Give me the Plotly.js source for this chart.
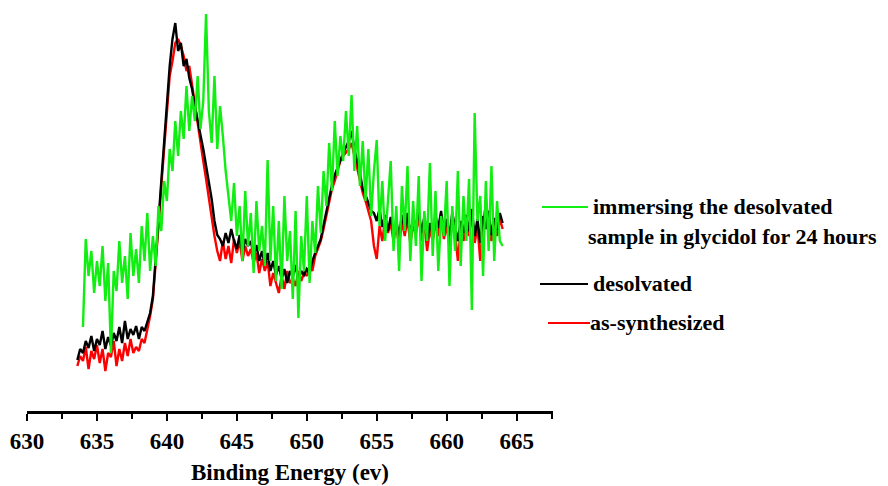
<!DOCTYPE html>
<html>
<head>
<meta charset="utf-8">
<script src="https://cdn.plot.ly/plotly-3.0.1.min.js"></script>
<style>html,body{margin:0;padding:0;background:#fff;}#chart{width:888px;height:486px;}</style>
</head>
<body>
<div id="chart"></div>
<script>
// Binding energy grid: start and step (eV)
const startBlackRed = 633.6;
const startGreen = 634.0;
const stepEV = 0.2;

// Intensities (arbitrary units), one value per 0.2 eV
const asSynthesized = [45, 55,
  50, 64, 42, 60, 52,
  66, 48, 62, 40, 58,
  54, 70, 45, 62, 50,
  68, 55, 72, 58, 64,
  60, 72, 68, 80, 95,
  112, 145, 185, 225, 265,
  300, 335, 350, 368, 372,
  365, 355, 340, 345, 325,
  305, 288, 270, 250, 232,
  212, 195, 175, 160, 150,
  170, 152, 165, 148, 172,
  158, 170, 150, 165, 155,
  162, 148, 158, 138, 152,
  140, 150, 125, 138, 128,
  118, 135, 122, 140, 128,
  132, 125, 140, 130, 138,
  135, 145, 140, 155, 162,
  170, 182, 196, 210, 222,
  230, 240, 250, 255, 258,
  262, 268, 255, 245, 232,
  218, 210, 200, 190, 165,
  152, 185, 170, 192, 178,
  188, 170, 185, 165, 190,
  175, 192, 168, 185, 178,
  195, 170, 188, 160, 182,
  170, 188, 175, 195, 172,
  185, 165, 192, 178, 150,
  182, 170, 190, 175, 196,
  168, 185, 150, 190, 205,
  195, 170, 188, 175, 192,
  182];

const desolvated = [51, 62,
  58, 70, 63, 75, 60,
  72, 66, 80, 62, 74,
  65, 78, 70, 84, 68,
  90, 72, 82, 76, 85,
  72, 84, 80, 88, 98,
  115, 150, 190, 230, 270,
  310, 345, 372, 388, 360,
  368, 345, 352, 333, 322,
  305, 292, 276, 262, 246,
  228, 212, 190, 176, 172,
  165, 178, 168, 182, 170,
  162, 176, 158, 172, 165,
  170, 155, 166, 150, 160,
  146, 158, 140, 150, 136,
  145, 132, 142, 128, 140,
  134, 146, 130, 140, 136,
  142, 138, 150, 158, 166,
  172, 186, 200, 214, 226,
  236, 244, 252, 258, 264,
  270, 280, 262, 250, 238,
  222, 216, 208, 200, 198,
  190, 202, 184, 196, 180,
  194, 178, 190, 175, 196,
  182, 198, 176, 192, 185,
  200, 178, 194, 172, 188,
  176, 195, 183, 200, 178,
  192, 175, 198, 184, 170,
  190, 178, 196, 180, 202,
  175, 192, 168, 195, 182,
  200, 176, 193, 181, 198,
  188];

const immersed = [
  84, 172, 135, 160, 118,
  150, 125, 165, 110, 148,
  58, 140, 120, 170, 128,
  155, 112, 178, 135, 162,
  128, 185, 150, 198, 140,
  175, 145, 205, 180, 230,
  210, 262, 240, 290, 255,
  300, 272, 325, 280, 315,
  290, 335, 282, 310, 397,
  300, 268, 335, 262, 305,
  275, 240, 215, 190, 228,
  175, 205, 150, 220, 165,
  198, 138, 210, 160, 185,
  145, 251, 150, 205, 130,
  190, 122, 215, 150, 180,
  112, 200, 93, 175, 140,
  215, 128, 190, 158, 225,
  178, 240, 205, 268, 220,
  290, 235, 275, 250, 300,
  255, 316, 240, 285, 225,
  270, 210, 262, 195, 240,
  271, 185, 230, 170, 215,
  250, 160, 205, 140, 225,
  180, 245, 150, 210, 165,
  235, 130, 200, 170, 248,
  155, 220, 140, 195, 175,
  230, 125, 205, 160, 240,
  145, 215, 170, 232, 101,
  298, 190, 215, 135, 230,
  160, 245, 150, 210, 170,
  165];

const seriesNames = ["as-synthesized", "desolvated", "immersing the desolvated sample in glycidol for 24 hours"];
const tickVals = [630, 635, 640, 645, 650, 655, 660, 665];
const tickText = ["630", "635", "640", "645", "650", "655", "660", "665"];

const FONT = "Liberation Serif";
const GREEN = "#11ee11";

const traces = [
  {type: "scatter", mode: "lines", name: seriesNames[0], x0: startBlackRed, dx: stepEV, y: asSynthesized,
   line: {color: "#ff0000", width: 2.4}},
  {type: "scatter", mode: "lines", name: seriesNames[1], x0: startBlackRed, dx: stepEV, y: desolvated,
   line: {color: "#000000", width: 2.4}},
  {type: "scatter", mode: "lines", name: seriesNames[2], x0: startGreen, dx: stepEV, y: immersed,
   line: {color: GREEN, width: 2.4}}
];

// pixel -> paper helpers for legend placement
const L = 27, W = 526, T = 10, H = 401;
const px = v => (v - L) / W;
const py = v => (T + H - v) / H;

const legendFont = {family: FONT, size: 22, color: "#000", weight: "bold"};

const layout = {
  width: 888, height: 486,
  margin: {l: L, r: 888 - L - W, t: T, b: 486 - T - H},
  paper_bgcolor: "#fff", plot_bgcolor: "#fff",
  font: {family: FONT},
  showlegend: false,
  xaxis: {
    range: [630, 667.6],
    showgrid: false, zeroline: false,
    showline: true, linecolor: "#000", linewidth: 3,
    ticks: "outside", ticklen: 7, tickwidth: 2, tickcolor: "#000",
    tickmode: "array", tickvals: tickVals, ticktext: tickText,
    minor: {ticks: "outside", ticklen: 5, tickwidth: 2, tickcolor: "#000", dtick: 2.5, tick0: 630, showgrid: false},
    tickfont: {family: FONT, size: 23, color: "#000", weight: "bold"},
    title: {text: "Binding Energy (ev)", font: {family: FONT, size: 23, color: "#000", weight: "bold"}, standoff: 12}
  },
  yaxis: {visible: false, range: [0, 401], fixedrange: true},
  shapes: [
    {type: "line", xref: "paper", yref: "paper", x0: px(542), x1: px(588), y0: py(207), y1: py(207), line: {color: GREEN, width: 2}},
    {type: "line", xref: "paper", yref: "paper", x0: px(540), x1: px(588), y0: py(284), y1: py(284), line: {color: "#000", width: 2}},
    {type: "line", xref: "paper", yref: "paper", x0: px(548), x1: px(590), y0: py(323), y1: py(323), line: {color: "#ff0000", width: 2}}
  ],
  annotations: [
    {xref: "paper", yref: "paper", x: px(591), y: py(206), xanchor: "left", yanchor: "middle", showarrow: false,
     text: "immersing the desolvated", font: legendFont},
    {xref: "paper", yref: "paper", x: px(586), y: py(237), xanchor: "left", yanchor: "middle", showarrow: false,
     text: "sample in glycidol for 24 hours", font: legendFont},
    {xref: "paper", yref: "paper", x: px(591), y: py(283), xanchor: "left", yanchor: "middle", showarrow: false,
     text: "desolvated", font: legendFont},
    {xref: "paper", yref: "paper", x: px(588), y: py(322), xanchor: "left", yanchor: "middle", showarrow: false,
     text: "as-synthesized", font: legendFont}
  ]
};

Plotly.newPlot("chart", traces, layout, {staticPlot: true, displayModeBar: false});
</script>
</body>
</html>
